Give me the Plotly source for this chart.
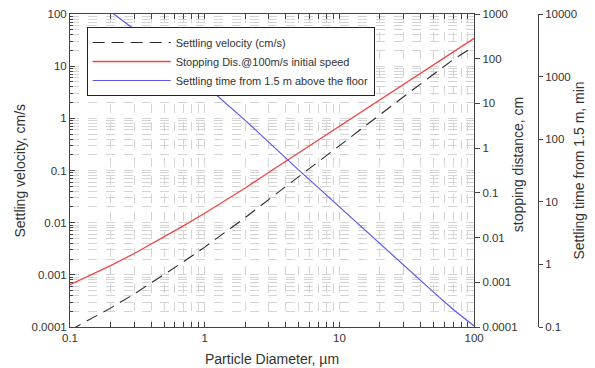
import plotly.graph_objects as go

# Particle diameter (um)
diam = [0.1, 0.2, 0.3, 0.5, 0.7, 1, 2, 3, 5, 7, 10, 20, 30, 50, 70, 100]
# Settling velocity (cm/s) - left axis
settling_velocity = [8.7e-5, 2.3e-4, 4.3e-4, 1.0e-3, 1.8e-3, 3.4e-3, 0.0125, 0.028,
                     0.077, 0.149, 0.30, 1.18, 2.6, 7.0, 13.3, 24]
# Stopping distance @100 m/s (cm) - right axis
stopping_distance = [8.8e-4, 2.35e-3, 4.4e-3, 0.0103, 0.0185, 0.035, 0.128, 0.29,
                     0.79, 1.53, 3.1, 12.2, 27, 74, 142, 285]
# Settling time from 1.5 m (min) - far right axis
settling_time = [28700, 10900, 5700, 2500, 1400, 740, 200, 88,
                 32, 16.7, 8.3, 2.1, 0.96, 0.36, 0.19, 0.104]

# Tick labels of the settling-time axis
time_ticks = [0.1, 1, 10, 100, 1000, 10000]
time_labels = ["0.1", "1", "10", "100", "1000", "10000"]

names = ["Settling velocity (cm/s)",
         "Stopping Dis.@100m/s initial speed",
         "Settling time from 1.5 m above the floor"]

FONT = "Liberation Sans, Arial, sans-serif"
GRID = "#d4d4d4"
AX = "#444444"

fig = go.Figure()
fig.add_trace(go.Scatter(x=diam, y=settling_velocity, name=names[0], mode="lines",
                         line=dict(color="#2a2a2a", width=1.1, dash="12px,7px"), yaxis="y"))
fig.add_trace(go.Scatter(x=diam, y=stopping_distance, name=names[1], mode="lines",
                         line=dict(color="#f04545", width=1.3), yaxis="y2"))
fig.add_trace(go.Scatter(x=diam, y=settling_time, name=names[2], mode="lines",
                         line=dict(color="#5a5ae6", width=1.2), yaxis="y3"))

xdom_end = (482 - 70) / 520
y3_pos = (547 - 70) / 520

tickfont = dict(family=FONT, size=11.5, color="#333333")

fig.update_layout(
    width=595, height=368,
    margin=dict(l=70, r=5, t=14, b=41),
    paper_bgcolor="white", plot_bgcolor="white",
    font=dict(family=FONT, color="#333333"),
    showlegend=True,
    legend=dict(x=(87 - 70) / 520, y=(327 - 27) / 313, xanchor="left", yanchor="top",
                bgcolor="white", bordercolor="#222222", borderwidth=1,
                font=dict(family=FONT, size=11, color="#333333"),
                itemwidth=78, tracegroupgap=0),
    xaxis=dict(type="log", range=[-1, 2], domain=[0, xdom_end], dtick=1,
               exponentformat="none", tickfont=tickfont,
               showline=True, linecolor=AX, linewidth=1, mirror="allticks",
               ticks="inside", ticklen=5, tickcolor=AX,
               showgrid=True, gridcolor=GRID, griddash="dash", zeroline=False,
               minor=dict(dtick="D1", ticks="inside", ticklen=3, tickcolor=AX,
                          showgrid=True, gridcolor=GRID, griddash="dash")),
    yaxis=dict(type="log", range=[-4, 2], dtick=1, exponentformat="none",
               tickfont=tickfont, showline=True, linecolor=AX, linewidth=1,
               ticks="inside", ticklen=5, tickcolor=AX,
               showgrid=True, gridcolor=GRID, griddash="dash", zeroline=False,
               minor=dict(dtick="D1", ticks="inside", ticklen=3, tickcolor=AX,
                          showgrid=True, gridcolor=GRID, griddash="dash")),
    yaxis2=dict(type="log", range=[-4, 3], dtick=1, exponentformat="none",
                overlaying="y", side="right", anchor="x",
                tickfont=tickfont, showline=True, linecolor=AX, linewidth=1,
                ticks="outside", ticklen=5, tickcolor=AX, showgrid=False, zeroline=False),
    yaxis3=dict(type="log", range=[-1, 4], tickmode="array",
                tickvals=time_ticks, ticktext=time_labels,
                overlaying="y", side="right", anchor="free", position=y3_pos,
                tickfont=tickfont, showline=True, linecolor=AX, linewidth=1,
                ticks="outside", ticklen=4, tickcolor=AX, showgrid=False, zeroline=False),
)

title_font = dict(family=FONT, size=14, color="#333333")
fig.add_annotation(text="Settling velocity, cm/s", xref="paper", yref="paper",
                   x=(18 - 70) / 520, y=0.5, textangle=-90, showarrow=False,
                   font=title_font, xanchor="center", yanchor="middle")
fig.add_annotation(text="stopping distance, cm", xref="paper", yref="paper",
                   x=(527 - 70) / 520, y=(327 - 165) / 313, textangle=-90, showarrow=False,
                   font=title_font, xanchor="center", yanchor="middle")
fig.add_annotation(text="Settling time from 1.5 m, min", xref="paper", yref="paper",
                   x=(588 - 70) / 520, y=0.5, textangle=-90, showarrow=False,
                   font=title_font, xanchor="center", yanchor="middle")
fig.add_annotation(text="Particle Diameter, \u00b5m", xref="paper", yref="paper",
                   x=(276 - 70) / 520, y=(327 - 349) / 313, showarrow=False,
                   font=title_font, xanchor="center", yanchor="top")

fig.write_html("out.html")
